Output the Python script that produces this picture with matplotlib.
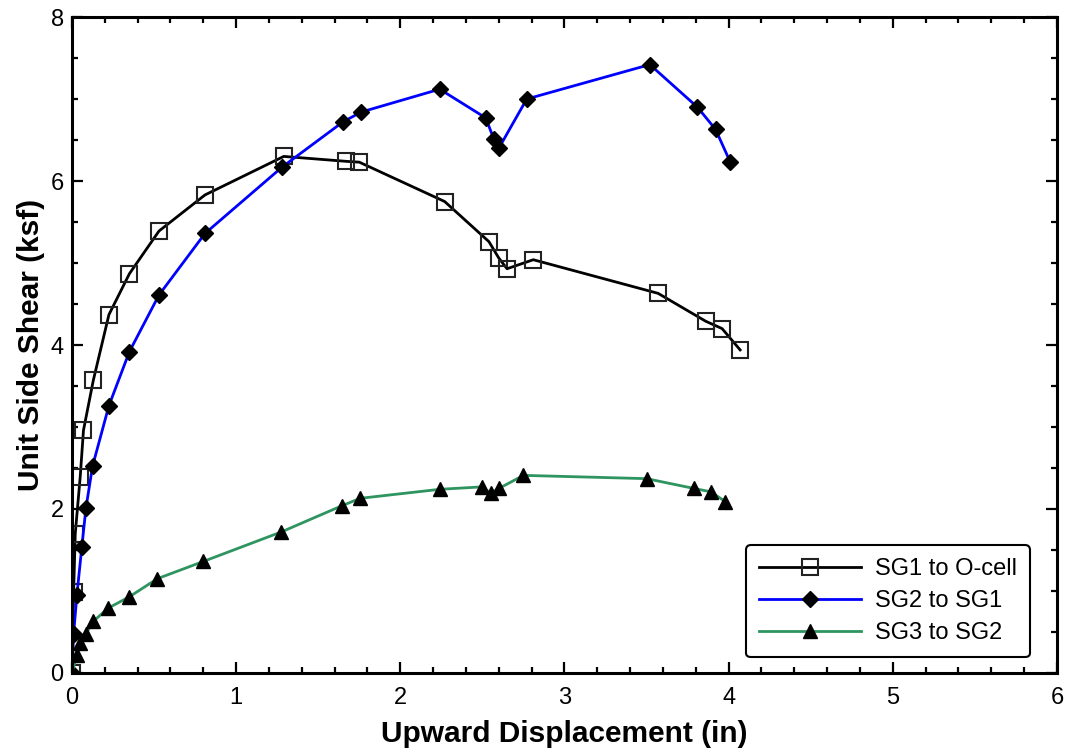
import matplotlib
matplotlib.use("Agg")
import matplotlib.pyplot as plt
from matplotlib.ticker import MultipleLocator

plt.rcParams['font.family'] = ['Liberation Sans', 'DejaVu Sans']

# Load-test readings: displacement (in) vs unit side shear (ksf)
sg1_disp = [0.0, 0.01, 0.02, 0.05, 0.07, 0.13, 0.225, 0.35, 0.53, 0.81, 1.29,
            1.67, 1.75, 2.27, 2.54, 2.60, 2.65, 2.81, 3.57, 3.86, 3.96, 4.07]
sg1_shear = [0.0, 0.99, 1.70, 2.39, 2.96, 3.57, 4.37, 4.87, 5.39, 5.83, 6.30,
             6.24, 6.23, 5.75, 5.26, 5.06, 4.93, 5.04, 4.63, 4.29, 4.20, 3.94]

sg2_disp = [0.0, 0.01, 0.03, 0.06, 0.085, 0.125, 0.225, 0.35, 0.53, 0.81, 1.28,
            1.65, 1.76, 2.24, 2.52, 2.57, 2.60, 2.77, 3.52, 3.81, 3.92, 4.01]
sg2_shear = [0.0, 0.48, 0.95, 1.54, 2.01, 2.52, 3.26, 3.92, 4.61, 5.36, 6.17,
             6.72, 6.84, 7.12, 6.77, 6.51, 6.40, 7.00, 7.42, 6.90, 6.63, 6.23]

sg3_disp = [0.0, 0.03, 0.05, 0.085, 0.13, 0.22, 0.35, 0.52, 0.80, 1.275,
            1.645, 1.755, 2.24, 2.50, 2.55, 2.60, 2.75, 3.50, 3.79, 3.89, 3.98]
sg3_shear = [0.0, 0.22, 0.36, 0.48, 0.63, 0.79, 0.93, 1.15, 1.36, 1.72,
             2.04, 2.13, 2.24, 2.27, 2.19, 2.25, 2.41, 2.37, 2.25, 2.21, 2.09]

fig = plt.figure(figsize=(10.68, 7.5), dpi=100)
ax = fig.add_axes([0.0674, 0.1027, 0.9223, 0.8746])

ax.plot(sg1_disp, sg1_shear, color='black', lw=2, marker='s', ms=11.5,
        mfc='none', mec='#222222', mew=1.5, label='SG1 to O-cell')
ax.plot(sg2_disp, sg2_shear, color='#0000ff', lw=2, marker='D', ms=8.5,
        mfc='black', mec='black', label='SG2 to SG1')
ax.plot(sg3_disp, sg3_shear, color='#2e9460', lw=2, marker='^', ms=9.5,
        mfc='black', mec='black', label='SG3 to SG2')

ax.set_xlim(0, 6)
ax.set_ylim(0, 8)
ax.xaxis.set_major_locator(MultipleLocator(1))
ax.xaxis.set_minor_locator(MultipleLocator(0.2))
ax.yaxis.set_major_locator(MultipleLocator(2))
ax.yaxis.set_minor_locator(MultipleLocator(0.5))

ax.tick_params(which='both', direction='in', top=True, right=True,
               width=1.6, labelsize=17)
ax.tick_params(which='major', length=8)
ax.tick_params(which='minor', length=4.5)
ax.tick_params(axis='y', pad=6)
ax.tick_params(axis='x', pad=10)
for sp in ax.spines.values():
    sp.set_linewidth(2.2)

ax.set_xlabel('Upward Displacement (in)', fontsize=21.5, fontweight='bold',
              labelpad=8)
ax.set_ylabel('Unit Side Shear (ksf)', fontsize=21.5, fontweight='bold',
              labelpad=4)

leg = ax.legend(loc='lower right', bbox_to_anchor=(0.9726, 0.024),
                borderaxespad=0, fontsize=17, handlelength=4.3,
                fancybox=True, framealpha=1, edgecolor='black',
                labelspacing=0.42, borderpad=0.55, handletextpad=0.6)
leg.get_frame().set_linewidth(1.5)

fig.savefig('out.png', dpi=100)
